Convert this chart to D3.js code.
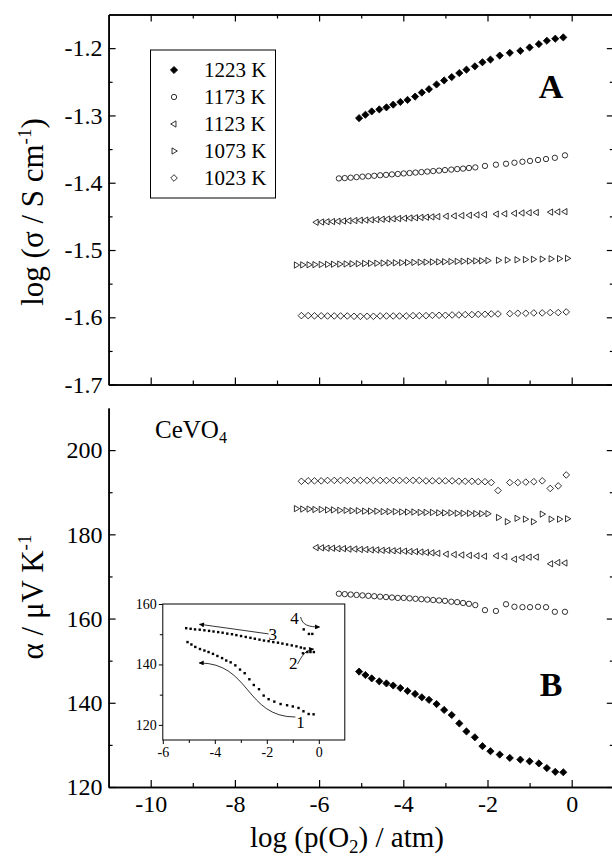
<!DOCTYPE html>
<html>
<head>
<meta charset="utf-8">
<script src="https://cdn.jsdelivr.net/npm/d3@7"></script>
<style>
body { margin: 0; background: #fff; }
text { font-family: "Liberation Serif", "Times New Roman", serif; fill: #000; }
</style>
</head>
<body>
<div id="chart"></div>
<script>
// ---- data ----
var temps = ["1223 K", "1173 K", "1123 K", "1073 K", "1023 K"];

var pO2_1223 = [-5.05,-4.90,-4.75,-4.57,-4.40,-4.24,-4.07,-3.90,-3.72,-3.56,-3.39,-3.21,-3.03,-2.85,-2.67,-2.50,-2.30,-2.12,-1.93,-1.71,-1.47,-1.22,-1.00,-0.78,-0.59,-0.39,-0.20];
var sigma_1223 = [-1.304,-1.299,-1.294,-1.291,-1.288,-1.284,-1.280,-1.277,-1.272,-1.266,-1.261,-1.254,-1.248,-1.243,-1.237,-1.232,-1.227,-1.221,-1.217,-1.211,-1.207,-1.204,-1.199,-1.194,-1.189,-1.186,-1.184];
var alpha_1223 = [147.4,146.6,145.8,145.1,144.6,144.1,143.5,142.8,142.1,141.3,140.7,139.7,138.3,137.1,135.1,133.2,131.8,129.7,128.5,127.7,126.9,126.5,126.1,125.6,124.5,123.6,123.5];

var pO2_1173 = [-5.53,-5.39,-5.25,-5.11,-4.97,-4.83,-4.69,-4.55,-4.41,-4.27,-4.13,-3.99,-3.85,-3.71,-3.57,-3.43,-3.29,-3.15,-3.01,-2.86,-2.72,-2.58,-2.44,-2.29,-2.06,-1.80,-1.56,-1.36,-1.17,-0.99,-0.80,-0.61,-0.40,-0.16];
var sigma_1173 = [-1.3936,-1.3931,-1.3925,-1.3917,-1.3910,-1.3904,-1.3897,-1.3889,-1.3883,-1.3876,-1.3870,-1.3862,-1.3856,-1.3849,-1.3842,-1.3834,-1.3827,-1.3820,-1.3812,-1.3805,-1.3797,-1.3790,-1.3781,-1.3772,-1.3750,-1.3732,-1.3718,-1.3703,-1.3688,-1.3676,-1.3662,-1.3648,-1.3630,-1.3593];
var alpha_1173 = [165.9,165.8,165.7,165.6,165.5,165.4,165.3,165.2,165.1,165.0,164.9,164.9,164.8,164.7,164.6,164.5,164.4,164.3,164.2,164.0,163.9,163.7,163.5,163.2,162.0,161.8,163.4,162.8,162.7,162.7,162.8,162.7,161.6,161.6];

var pO2_1123 = [-6.07,-5.94,-5.81,-5.68,-5.55,-5.42,-5.29,-5.15,-5.02,-4.89,-4.76,-4.63,-4.50,-4.37,-4.24,-4.11,-3.97,-3.84,-3.71,-3.58,-3.45,-3.32,-3.18,-2.98,-2.79,-2.61,-2.43,-2.25,-2.07,-1.79,-1.59,-1.36,-1.18,-1.01,-0.84,-0.50,-0.33,-0.16];
var sigma_1123 = [-1.4588,-1.4584,-1.4580,-1.4577,-1.4573,-1.4569,-1.4566,-1.4562,-1.4558,-1.4555,-1.4551,-1.4547,-1.4543,-1.4540,-1.4536,-1.4532,-1.4528,-1.4524,-1.4520,-1.4516,-1.4512,-1.4508,-1.4504,-1.4498,-1.4493,-1.4488,-1.4483,-1.4478,-1.4473,-1.4466,-1.4461,-1.4455,-1.4450,-1.4446,-1.4442,-1.4437,-1.4433,-1.4430];
var alpha_1123 = [176.85,176.8,176.7,176.7,176.6,176.6,176.5,176.5,176.4,176.4,176.3,176.3,176.2,176.2,176.1,176.1,176.0,175.9,175.9,175.8,175.7,175.6,175.5,175.3,175.2,175.1,175.0,174.9,174.8,174.9,174.7,174.1,174.5,174.6,174.6,173.0,173.3,173.2];

var pO2_1073 = [-6.54,-6.39,-6.24,-6.10,-5.95,-5.80,-5.66,-5.51,-5.36,-5.22,-5.07,-4.92,-4.78,-4.63,-4.48,-4.34,-4.19,-4.04,-3.90,-3.75,-3.60,-3.46,-3.31,-3.16,-3.02,-2.87,-2.72,-2.58,-2.43,-2.28,-2.14,-1.99,-1.74,-1.53,-1.30,-1.10,-0.91,-0.70,-0.49,-0.29,-0.10];
var sigma_1073 = [-1.5223,-1.5221,-1.5219,-1.5217,-1.5215,-1.5213,-1.5211,-1.5209,-1.5207,-1.5205,-1.5203,-1.5200,-1.5198,-1.5196,-1.5194,-1.5192,-1.5190,-1.5188,-1.5186,-1.5184,-1.5182,-1.5180,-1.5178,-1.5176,-1.5174,-1.5172,-1.5169,-1.5167,-1.5165,-1.5162,-1.5160,-1.5157,-1.5152,-1.5149,-1.5145,-1.5142,-1.5138,-1.5135,-1.5131,-1.5128,-1.5124];
var alpha_1073 = [186.1,186.0,186.0,185.9,185.9,185.8,185.8,185.7,185.7,185.6,185.6,185.5,185.5,185.5,185.4,185.4,185.4,185.3,185.3,185.3,185.2,185.2,185.2,185.1,185.1,185.1,185.0,185.0,185.0,184.9,184.9,184.9,184.0,183.0,183.8,183.6,183.0,184.8,183.6,183.6,183.7];

var pO2_1023 = [-6.42,-6.26,-6.11,-5.95,-5.80,-5.64,-5.49,-5.33,-5.17,-5.02,-4.86,-4.71,-4.55,-4.40,-4.24,-4.09,-3.93,-3.77,-3.62,-3.46,-3.31,-3.15,-3.00,-2.84,-2.68,-2.53,-2.37,-2.22,-2.06,-1.91,-1.75,-1.47,-1.28,-1.09,-0.90,-0.70,-0.51,-0.32,-0.13];
var sigma_1023 = [-1.5975,-1.5975,-1.5978,-1.5978,-1.598,-1.598,-1.598,-1.598,-1.5985,-1.5985,-1.5985,-1.5985,-1.598,-1.598,-1.598,-1.598,-1.598,-1.5975,-1.5975,-1.5975,-1.597,-1.597,-1.597,-1.5965,-1.5965,-1.596,-1.596,-1.5955,-1.5955,-1.595,-1.595,-1.5945,-1.594,-1.594,-1.5935,-1.5935,-1.593,-1.593,-1.592];
var alpha_1023 = [192.6,192.7,192.7,192.7,192.8,192.8,192.8,192.8,192.8,192.8,192.8,192.8,192.8,192.8,192.8,192.8,192.8,192.8,192.8,192.7,192.7,192.7,192.7,192.7,192.6,192.6,192.6,192.5,192.5,192.3,190.4,192.3,192.3,192.4,192.5,192.7,190.9,191.5,194.1];

// inset: run 1 is the 1223 K alpha series, runs 2-4 below
var inset2_x = [-0.61,-0.44,-0.32,-0.19];
var inset2_y = [143.7,144.1,144.1,144.1];
var inset3_x = [-5.10,-4.93,-4.76,-4.58,-4.40,-4.22,-4.05,-3.87,-3.70,-3.52,-3.34,-3.17,-2.99,-2.81,-2.63,-2.46,-2.28,-2.11,-1.93,-1.75,-1.57,-1.40,-1.22,-1.04,-0.86,-0.69,-0.55];
var inset3_y = [152.0,151.8,151.6,151.5,151.3,151.1,150.9,150.7,150.5,150.2,150.0,149.7,149.4,149.1,148.8,148.5,148.2,147.9,147.7,147.4,147.2,146.9,146.6,146.3,146.0,145.6,145.3];
var inset4_x = [-0.58,-0.38,-0.25];
var inset4_y = [151.6,150.1,150.1];

var xMajor = [-10,-8,-6,-4,-2,0];
var xMinor = [-9,-7,-5,-3,-1];
var sigmaTicks = [-1.7,-1.6,-1.5,-1.4,-1.3,-1.2];
var sigmaMinor = [-1.65,-1.55,-1.45,-1.35,-1.25];
var alphaTicks = [120,140,160,180,200];
var alphaMinor = [130,150,170,190];
var insetXTicks = [-6,-4,-2,0];
var insetXMinor = [-5,-3,-1];
var insetYTicks = [120,140,160];
var insetYMinor = [130,150];

var series = [
  {label: temps[0], shape: "fdiamond", x: pO2_1223, sigma: sigma_1223, alpha: alpha_1223},
  {label: temps[1], shape: "circle",   x: pO2_1173, sigma: sigma_1173, alpha: alpha_1173},
  {label: temps[2], shape: "tleft",    x: pO2_1123, sigma: sigma_1123, alpha: alpha_1123},
  {label: temps[3], shape: "tright",   x: pO2_1073, sigma: sigma_1073, alpha: alpha_1073},
  {label: temps[4], shape: "odiamond", x: pO2_1023, sigma: sigma_1023, alpha: alpha_1023}
];

// ---- layout ----
var width = 612, height = 859;
var serif = "'Liberation Serif','Times New Roman',serif";

var svg = d3.select("#chart").append("svg")
    .attr("width", width)
    .attr("height", height)
    .style("background", "#fff");

var x = d3.scaleLinear().domain([-11, 1]).range([108.6, 613.8]);
var yA = d3.scaleLinear().domain([-1.7, -1.15]).range([384.6, 14.5]);
var yB = d3.scaleLinear().domain([120, 210]).range([787, 408]);

function symbolPath(kind, r) {
  if (kind == "fdiamond" || kind == "odiamond")
    return `M0,${-r}L${r},0L0,${r}L${-r},0Z`;
  if (kind == "tleft")
    return `M${-r},0L${r*0.6},${-r*0.95}L${r*0.6},${r*0.95}Z`;
  if (kind == "tright")
    return `M${r},0L${-r*0.6},${-r*0.95}L${-r*0.6},${r*0.95}Z`;
  return d3.symbol(d3.symbolCircle, Math.PI * r * r * 0.62)();
}
function drawMarks(g, kind, pts) {
  var r = kind == "fdiamond" ? 3.6 : (kind == "circle" ? 3.4 : 3.3);
  g.selectAll("path.m").data(pts).enter().append("path")
    .attr("class", "m")
    .attr("transform", function(d) { return `translate(${d[0]},${d[1]})`; })
    .attr("d", symbolPath(kind, r))
    .attr("fill", kind == "fdiamond" ? "#000" : "none")
    .attr("stroke", "#000")
    .attr("stroke-width", 0.8);
}

function styleAxis(g, w) {
  g.attr("font-family", null);
  g.select(".domain").attr("stroke", "#000").attr("stroke-width", w || 1.5);
  g.selectAll(".tick line").attr("stroke", "#000").attr("stroke-width", 1.2);
  g.selectAll(".tick text").style("font-family", serif).style("font-size", "24px").attr("fill", "#000");
}

// ---- panel A ----
var gA = svg.append("g");
gA.append("g").attr("transform", `translate(0,${yA(-1.7)})`)
  .call(d3.axisBottom(x).tickValues(xMajor).tickSize(-7).tickSizeOuter(0).tickFormat(""))
  .call(styleAxis);
gA.append("g").attr("transform", `translate(0,${yA(-1.7)})`)
  .call(d3.axisBottom(x).tickValues(xMinor).tickSize(-4).tickSizeOuter(0).tickFormat(""))
  .call(styleAxis);
gA.append("g").attr("transform", `translate(0,${yA(-1.15)})`)
  .call(d3.axisTop(x).tickValues(xMajor).tickSize(-7).tickSizeOuter(0).tickFormat(""))
  .call(styleAxis);
gA.append("g").attr("transform", `translate(0,${yA(-1.15)})`)
  .call(d3.axisTop(x).tickValues(xMinor).tickSize(-4).tickSizeOuter(0).tickFormat(""))
  .call(styleAxis);
gA.append("g").attr("transform", `translate(${x(-11)},0)`)
  .call(d3.axisLeft(yA).tickValues(sigmaTicks).tickSize(-7).tickSizeOuter(0).tickPadding(6)
    .tickFormat(function(d) { return d.toFixed(1); }))
  .call(styleAxis);
gA.append("g").attr("transform", `translate(${x(-11)},0)`)
  .call(d3.axisLeft(yA).tickValues(sigmaMinor).tickSize(-4).tickSizeOuter(0).tickFormat(""))
  .call(styleAxis);
gA.append("g").attr("transform", `translate(${x(1)},0)`)
  .call(d3.axisRight(yA).tickValues(sigmaTicks).tickSize(-7).tickSizeOuter(0).tickFormat(""))
  .call(styleAxis);
gA.append("g").attr("transform", `translate(${x(1)},0)`)
  .call(d3.axisRight(yA).tickValues(sigmaMinor).tickSize(-4).tickSizeOuter(0).tickFormat(""))
  .call(styleAxis);

series.forEach(function(s) {
  var pts = s.x.map(function(v, i) { return [x(v), yA(s.sigma[i])]; });
  drawMarks(gA.append("g"), s.shape, pts);
});

// legend
var legend = gA.append("g");
legend.append("rect").attr("x", 150.5).attr("y", 50).attr("width", 125).attr("height", 148)
  .attr("fill", "none").attr("stroke", "#000").attr("stroke-width", 1);
series.forEach(function(s, i) {
  var cy = 70 + i * 27;
  drawMarks(legend.append("g"), s.shape, [[174, cy]]);
  legend.append("text").attr("x", 204).attr("y", cy + 7)
    .style("font-size", "21px").text(s.label);
});

gA.append("text").attr("x", 551).attr("y", 98).attr("text-anchor", "middle")
  .style("font-size", "34px").style("font-weight", "bold").text("A");

var yLabA = gA.append("text").attr("transform", "translate(43,212) rotate(-90)")
  .attr("text-anchor", "middle").style("font-size", "31px");
yLabA.append("tspan").text("log (\u03c3 / S cm");
yLabA.append("tspan").attr("dy", -12).style("font-size", "19px").text("-1");
yLabA.append("tspan").attr("dy", 12).text(")");

// ---- panel B ----
var gB = svg.append("g");
gB.append("g").attr("transform", `translate(0,${yB(120)})`)
  .call(d3.axisBottom(x).tickValues(xMajor).tickSize(-7).tickSizeOuter(0).tickPadding(8)
    .tickFormat(function(d) { return String(d); }))
  .call(styleAxis);
gB.append("g").attr("transform", `translate(0,${yB(120)})`)
  .call(d3.axisBottom(x).tickValues(xMinor).tickSize(-4).tickSizeOuter(0).tickFormat(""))
  .call(styleAxis);
gB.append("g").attr("transform", `translate(${x(-11)},0)`)
  .call(d3.axisLeft(yB).tickValues(alphaTicks).tickSize(-7).tickSizeOuter(0).tickPadding(6))
  .call(styleAxis);
gB.append("g").attr("transform", `translate(${x(-11)},0)`)
  .call(d3.axisLeft(yB).tickValues(alphaMinor).tickSize(-4).tickSizeOuter(0).tickFormat(""))
  .call(styleAxis);
gB.append("g").attr("transform", `translate(${x(1)},0)`)
  .call(d3.axisRight(yB).tickValues(alphaTicks).tickSize(-7).tickSizeOuter(0).tickFormat(""))
  .call(styleAxis);
gB.append("g").attr("transform", `translate(${x(1)},0)`)
  .call(d3.axisRight(yB).tickValues(alphaMinor).tickSize(-4).tickSizeOuter(0).tickFormat(""))
  .call(styleAxis);

series.forEach(function(s) {
  var pts = s.x.map(function(v, i) { return [x(v), yB(s.alpha[i])]; });
  drawMarks(gB.append("g"), s.shape, pts);
});

gB.append("text").attr("x", 551).attr("y", 696).attr("text-anchor", "middle")
  .style("font-size", "34px").style("font-weight", "bold").text("B");

var ce = gB.append("text").attr("x", 155).attr("y", 438).style("font-size", "25px");
ce.append("tspan").text("CeVO");
ce.append("tspan").attr("dy", 5).style("font-size", "16px").text("4");

var yLabB = gB.append("text").attr("transform", "translate(43,597) rotate(-90)")
  .attr("text-anchor", "middle").style("font-size", "31px");
yLabB.append("tspan").text("\u03b1 / \u03bcV K");
yLabB.append("tspan").attr("dy", -12).style("font-size", "19px").text("-1");

var xLab = svg.append("text").attr("x", 347).attr("y", 847).attr("text-anchor", "middle")
  .style("font-size", "29px");
xLab.append("tspan").text("log (p(O");
xLab.append("tspan").attr("dy", 6).style("font-size", "19px").text("2");
xLab.append("tspan").attr("dy", -6).text(") / atm)");

// ---- inset ----
var ix = d3.scaleLinear().domain([-6, 1]).range([162.8, 344.8]);
var iy = d3.scaleLinear().domain([115, 160]).range([740, 604]);
var gI = svg.append("g");

svg.append("defs").append("marker")
  .attr("id", "arr").attr("viewBox", "0 0 10 10").attr("refX", 9).attr("refY", 5)
  .attr("markerUnits", "userSpaceOnUse").attr("markerWidth", 7).attr("markerHeight", 5)
  .attr("orient", "auto")
  .append("path").attr("d", "M0,0L10,5L0,10Z").attr("fill", "#000");

gI.append("rect").attr("x", ix(-6)).attr("y", iy(160)).attr("width", ix(1) - ix(-6))
  .attr("height", iy(115) - iy(160)).attr("fill", "#fff").attr("stroke", "#000").attr("stroke-width", 1);

function styleInset(g) {
  g.attr("font-family", null);
  g.select(".domain").remove();
  g.selectAll(".tick line").attr("stroke", "#000").attr("stroke-width", 1);
  g.selectAll(".tick text").style("font-family", serif).style("font-size", "14px").attr("fill", "#000");
}
gI.append("g").attr("transform", `translate(0,${iy(115)})`)
  .call(d3.axisBottom(ix).tickValues(insetXTicks).tickSize(4).tickPadding(3)
    .tickFormat(function(d) { return String(d); }))
  .call(styleInset);
gI.append("g").attr("transform", `translate(0,${iy(115)})`)
  .call(d3.axisBottom(ix).tickValues(insetXMinor).tickSize(3).tickFormat(""))
  .call(styleInset);
gI.append("g").attr("transform", `translate(${ix(-6)},0)`)
  .call(d3.axisLeft(iy).tickValues(insetYTicks).tickSize(4).tickPadding(2))
  .call(styleInset);
gI.append("g").attr("transform", `translate(${ix(-6)},0)`)
  .call(d3.axisLeft(iy).tickValues(insetYMinor).tickSize(3).tickFormat(""))
  .call(styleInset);

function insetDots(xs, ys) {
  gI.append("g").selectAll("rect").data(xs).enter().append("rect")
    .attr("x", function(d) { return ix(d) - 1.2; })
    .attr("y", function(d, i) { return iy(ys[i]) - 1.2; })
    .attr("width", 2.4).attr("height", 2.4).attr("fill", "#000");
}
insetDots(pO2_1223, alpha_1223);
insetDots(inset2_x, inset2_y);
insetDots(inset3_x, inset3_y);
insetDots(inset4_x, inset4_y);

function arrow(pts) {
  var p = d3.path();
  p.moveTo(ix(pts[0][0]), iy(pts[0][1]));
  if (pts.length == 2) p.lineTo(ix(pts[1][0]), iy(pts[1][1]));
  else p.bezierCurveTo(ix(pts[1][0]), iy(pts[1][1]), ix(pts[2][0]), iy(pts[2][1]), ix(pts[3][0]), iy(pts[3][1]));
  gI.append("path").attr("d", p.toString()).attr("fill", "none").attr("stroke", "#000")
    .attr("stroke-width", 0.8).attr("marker-end", "url(#arr)");
}
arrow([[-0.9, 122.6], [-2.83, 122.6], [-2.63, 140.5], [-4.6, 140.5]]);
arrow([[-1.93, 150.1], [-4.59, 153.3]]);
arrow([[-0.82, 140.1], [-0.63, 143.1], [-0.51, 144.8], [-0.2, 145.1]]);
arrow([[-0.7, 155.7], [-0.63, 153.0], [-0.39, 152.4], [0.03, 152.4]]);

[["1", -0.7, 119.0], ["2", -0.98, 138.5], ["3", -1.77, 148.1], ["4", -0.93, 153.4]].forEach(function(t) {
  gI.append("text").attr("x", ix(t[1])).attr("y", iy(t[2])).attr("text-anchor", "middle")
    .style("font-size", "17px").text(t[0]);
});
</script>
</body>
</html>
